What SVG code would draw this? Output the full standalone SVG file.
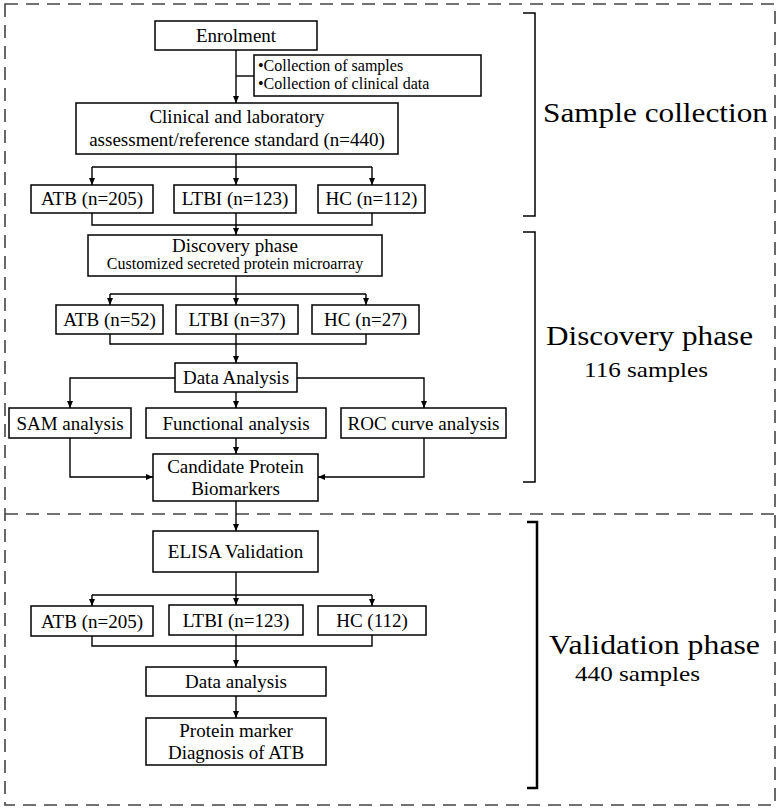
<svg xmlns="http://www.w3.org/2000/svg" width="779" height="811" viewBox="0 0 779 811">
<style>
.box{fill:#fff;stroke:#000;stroke-width:1.5}
.t{font-family:"Liberation Serif","Times New Roman",serif;font-size:19px;fill:#000;text-anchor:middle}
.s{font-size:16px}
.lab{font-family:"Liberation Serif","Times New Roman",serif;fill:#000}
.c{fill:none;stroke:#000;stroke-width:1.4}
.dash{fill:none;stroke:#444;stroke-width:1.6;stroke-dasharray:13 8}
.br{fill:none;stroke:#000;stroke-width:1.5}
</style>
<defs>
<marker id="ah" markerUnits="userSpaceOnUse" markerWidth="7" markerHeight="6" refX="7" refY="3" orient="auto">
<path d="M0,0 L7,3 L0,6 z" fill="#000"/>
</marker>
</defs>
<g id="frame">
<rect class="dash" x="5" y="4" width="770" height="801"/>
<line class="dash" x1="5" y1="514" x2="775" y2="514"/>
</g>
<g id="brackets">
<path class="br" d="M523,13 H535 V216 H523"/>
<path class="br" d="M523,232 H535 V482 H523"/>
<path class="br" style="stroke-width:2.5" d="M527,522 H537 V788 H527"/>
</g>
<g id="labels">
<text class="lab" x="543" y="122" font-size="27" textLength="225" lengthAdjust="spacingAndGlyphs">Sample collection</text>
<text class="lab" x="546" y="345" font-size="27" textLength="207" lengthAdjust="spacingAndGlyphs">Discovery phase</text>
<text class="lab" x="584" y="377" font-size="21" textLength="124" lengthAdjust="spacingAndGlyphs">116 samples</text>
<text class="lab" x="549" y="654" font-size="27" textLength="211" lengthAdjust="spacingAndGlyphs">Validation phase</text>
<text class="lab" x="575" y="681" font-size="21" textLength="125" lengthAdjust="spacingAndGlyphs">440 samples</text>
</g>
<g id="connectors">
<path class="c" d="M236,50 V103" marker-end="url(#ah)"/>
<path class="c" d="M236,76 H254"/>
<path class="c" d="M236,154 V167"/>
<path class="c" d="M92,167 H372"/>
<path class="c" d="M92,167 V185" marker-end="url(#ah)"/>
<path class="c" d="M236,167 V185" marker-end="url(#ah)"/>
<path class="c" d="M372,167 V185" marker-end="url(#ah)"/>
<path class="c" d="M92,213 V225 H372 V213"/>
<path class="c" d="M236,213 V235" marker-end="url(#ah)"/>
<path class="c" d="M236,276 V294"/>
<path class="c" d="M110,294 H366"/>
<path class="c" d="M110,294 V305" marker-end="url(#ah)"/>
<path class="c" d="M236,294 V305" marker-end="url(#ah)"/>
<path class="c" d="M366,294 V305" marker-end="url(#ah)"/>
<path class="c" d="M110,334 V344 H366 V334"/>
<path class="c" d="M236,334 V363" marker-end="url(#ah)"/>
<path class="c" d="M175,378 H70 V408" marker-end="url(#ah)"/>
<path class="c" d="M297,378 H424 V408" marker-end="url(#ah)"/>
<path class="c" d="M236,392 V408" marker-end="url(#ah)"/>
<path class="c" d="M70,438 V477 H153" marker-end="url(#ah)"/>
<path class="c" d="M424,438 V477 H318" marker-end="url(#ah)"/>
<path class="c" d="M236,438 V454" marker-end="url(#ah)"/>
<path class="c" d="M236,501 V531" marker-end="url(#ah)"/>
<path class="c" d="M236,572 V595"/>
<path class="c" d="M92,595 H372"/>
<path class="c" d="M92,595 V606" marker-end="url(#ah)"/>
<path class="c" d="M236,595 V605" marker-end="url(#ah)"/>
<path class="c" d="M372,595 V606" marker-end="url(#ah)"/>
<path class="c" d="M92,636 V646 H372 V635"/>
<path class="c" d="M236,635 V667" marker-end="url(#ah)"/>
<path class="c" d="M236,696 V718" marker-end="url(#ah)"/>
</g>
<g id="enrolment"><rect class="box" x="155" y="21" width="162" height="29"/><text class="t" x="236" y="42">Enrolment</text></g>
<g id="collection"><rect class="box" x="254" y="55" width="227" height="41"/>
<text class="t s" x="258" y="71" style="text-anchor:start">•Collection of samples</text>
<text class="t s" x="258" y="89" style="text-anchor:start">•Collection of clinical data</text></g>
<g id="clinical"><rect class="box" x="76" y="103" width="322" height="51"/>
<text class="t" x="237" y="123">Clinical and laboratory</text>
<text class="t" x="237" y="146">assessment/reference standard (n=440)</text></g>
<g id="atb205"><rect class="box" x="31" y="185" width="122" height="28"/><text class="t" x="92" y="205">ATB (n=205)</text></g>
<g id="ltbi123"><rect class="box" x="174" y="185" width="122" height="28"/><text class="t" x="235" y="205">LTBI (n=123)</text></g>
<g id="hc112"><rect class="box" x="318" y="185" width="107" height="28"/><text class="t" x="371.5" y="205">HC (n=112)</text></g>
<g id="discovery"><rect class="box" x="88" y="235" width="294" height="41"/>
<text class="t" x="235" y="252">Discovery phase</text>
<text class="t s" x="235" y="269">Customized secreted protein microarray</text></g>
<g id="atb52"><rect class="box" x="56" y="305" width="107" height="29"/><text class="t" x="109.5" y="326">ATB (n=52)</text></g>
<g id="ltbi37"><rect class="box" x="176" y="305" width="122" height="29"/><text class="t" x="237" y="326">LTBI (n=37)</text></g>
<g id="hc27"><rect class="box" x="312" y="305" width="107" height="29"/><text class="t" x="365.5" y="326">HC (n=27)</text></g>
<g id="dataAnalysis"><rect class="box" x="175" y="363" width="122" height="29"/><text class="t" x="236" y="384">Data Analysis</text></g>
<g id="sam"><rect class="box" x="9" y="408" width="122" height="30"/><text class="t" x="70" y="430">SAM analysis</text></g>
<g id="functional"><rect class="box" x="146" y="408" width="180" height="30"/><text class="t" x="236" y="430">Functional analysis</text></g>
<g id="roc"><rect class="box" x="341" y="408" width="165" height="30"/><text class="t" x="423.5" y="430">ROC curve analysis</text></g>
<g id="candidate"><rect class="box" x="153" y="454" width="165" height="47"/>
<text class="t" x="235.5" y="473">Candidate Protein</text>
<text class="t" x="235.5" y="495">Biomarkers</text></g>
<g id="elisa"><rect class="box" x="153" y="531" width="165" height="41"/><text class="t" x="235.5" y="558">ELISA Validation</text></g>
<g id="vatb"><rect class="box" x="31" y="606" width="122" height="30"/><text class="t" x="92" y="628">ATB (n=205)</text></g>
<g id="vltbi"><rect class="box" x="169" y="605" width="134" height="30"/><text class="t" x="236" y="627">LTBI (n=123)</text></g>
<g id="vhc"><rect class="box" x="318" y="606" width="108" height="29"/><text class="t" x="372" y="627">HC (112)</text></g>
<g id="dataAnalysis2"><rect class="box" x="146" y="667" width="180" height="29"/><text class="t" x="236" y="688">Data analysis</text></g>
<g id="protein"><rect class="box" x="146" y="718" width="180" height="47"/>
<text class="t" x="236" y="737">Protein marker</text>
<text class="t" x="236" y="759">Diagnosis of ATB</text></g>
</svg>
